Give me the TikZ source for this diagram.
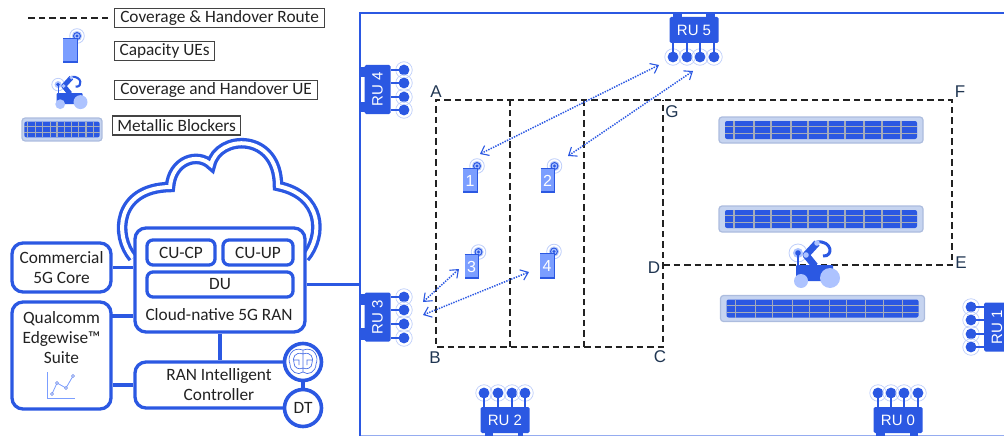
\documentclass[tikz,border=0pt]{standalone}
\usepackage{fontspec}
\setmainfont{Carlito}
\newfontfamily\rufont{Liberation Sans}
\usepackage{xcolor}
\usepackage{tikz}
\usetikzlibrary{positioning,arrows.meta}
\definecolor{ranblue}{RGB}{43,88,226}
\definecolor{uelight}{RGB}{123,158,255}
\definecolor{wheel}{RGB}{173,195,255}
\definecolor{ringc}{RGB}{190,206,250}
\definecolor{plate}{RGB}{198,212,240}
\definecolor{plateb}{RGB}{172,188,222}
\definecolor{ink}{RGB}{34,34,34}
\definecolor{mark}{RGB}{32,54,82}
\definecolor{gridc}{RGB}{165,172,186}

\begin{document}
\begin{tikzpicture}[x=1pt, y=-1pt, every node/.style={font=\fontsize{17.3}{20}\selectfont, text=ink},
  ranb/.style={draw=ranblue, line width=3.3pt, rounded corners=11pt, fill=white, align=center, inner sep=0pt},
  cub/.style={ranb, rounded corners=6pt},
  legb/.style={draw=ink!85, line width=1.2pt, anchor=west, minimum height=19, inner sep=0pt},
  txt/.style={align=center, inner sep=0pt},
  rund/.style={draw=ranblue, line width=3.6pt, circle, fill=white, minimum size=37, inner sep=0pt},
  rub/.style={fill=ranblue, rounded corners=1.5pt, minimum width=49, minimum height=26, inner sep=0pt, text=white, font=\rufont\fontsize{15}{15}\selectfont},
  ant/.style={circle, draw=ringc, line width=.7pt, minimum size=16.5, inner sep=0pt, path picture={\fill[ranblue] (path picture bounding box.center) circle (5.4);}},
  stem/.style={draw=ranblue, line width=1.3pt},
  link/.style={draw=ranblue, line width=3.3pt},
  wall/.style={draw=ranblue, line width=2.7pt},
  route/.style={draw=ink, line width=1.2pt, dash pattern=on 6.5pt off 4pt},
  radio/.style={draw=ranblue, line width=1.5pt, dash pattern=on 1.4pt off 1.2pt, {Straight Barb[length=7pt,width=11pt,line width=1.1pt]}-{Straight Barb[length=7pt,width=11pt,line width=1.1pt]}},
  mk/.style={inner sep=0pt, text=mark, font=\rufont\fontsize{17}{17}\selectfont},
  uenum/.style={inner sep=0pt, text=white, font=\rufont\fontsize{16}{16}\selectfont},
  pics/phone/.style={code={
    \draw[ringc, line width=.8pt] (7,-14.5) circle (7.3);
    \fill[ringc] (7,-14.5) circle (5.2);
    \fill[ranblue] (7,-14.5) circle (4);
    \fill[wheel] (7,-14.5) circle (2.8);
    \fill[ranblue] (7,-14.5) circle (1.7);
    \fill[uelight] (-7,-12.5) rectangle (7,12.5);
    \draw[ranblue, line width=.7pt] (-7,-12.5) -- (7,-12.5) -- (7,12.5);
    \fill[ranblue] (-7,10.5) rectangle (7,12.5);
  }},
  pics/blocker/.style={code={
    \draw[draw=plateb, fill=plate, line width=1.2pt, rounded corners=3pt] (-102,-13) rectangle (102,13);
    \fill[ranblue, rounded corners=2pt] (-96,-9) rectangle (96,9);
    \draw[gridc, line width=1.2pt] (-96,-3.3) -- (96,-3.3) (-96,3.6) -- (96,3.6);
    \foreach \g in {-87,-67,-50,-30,-13,7,24,43,61,80} \draw[gridc, line width=1.2pt] (\g,-9) -- (\g,9);
  }},
  pics/robot/.style={code={
    \begin{scope}[scale=#1]
    \fill[ranblue, rounded corners=1pt] (-19,0) rectangle (18,16);
    \fill[wheel] (-14,16) circle (7);
    \fill[wheel] (15,13) circle (10);
    \draw[ringc, line width=.8pt] (-17,-12) circle (9);
    \fill[wheel] (-17,-12) circle (5);
    \draw[ranblue, line width=#1*1.4pt] (-17,-12) -- (-17,2);
    \fill[ranblue] (-17,-12) circle (2.8);
    \draw[ranblue, line width=#1*7pt, line join=round] (0,1) -- (-9,-10) -- (2,-22);
    \draw[ranblue, line width=#1*3pt] (2,-23) .. controls (17,-25) and (19,-8) .. (8,-9);
    \fill[wheel] (-9,-10) circle (2.8);
    \fill[wheel] (2,-22) circle (2.8);
    \end{scope}
  }}]
\useasboundingbox (0,0) rectangle (1004,436);

\coordinate (rtl) at (25,18);
\coordinate (rtr) at (108,18);
\draw[route] (rtr) -- (rtl);
\node[legb, minimum width=210] (legroute) at (114,18) {Coverage \& Handover Route};
\node[legb, minimum width=100] (legcap) at (114,51) {Capacity UEs};
\node[legb, minimum width=203] (legcov) at (114,90) {Coverage and Handover UE};
\node[legb, minimum width=128] (legblk) at (112,125.5) {Metallic Blockers};
\pic at (70,50.5) {phone};
\pic at (70,93) {robot=.7};
\pic[xscale=.392, yscale=.88] at (62,129.5) {blocker};

\coordinate (clouda) at (133,258);
\coordinate (cloudb) at (305,258);
\draw[ranblue, line width=3.3pt, double=white, double distance=4pt] (clouda)
  .. controls (114,236) and (116,188) .. (170,187)
  .. controls (172,160) and (198,152) .. (211,165)
  .. controls (218,134) and (278,132) .. (278,186)
  .. controls (322,195) and (324,235) .. (cloudb);

\node[ranb, minimum width=99, minimum height=49] (core) at (61.5,267.5) {Commercial\\5G Core};
\node[ranb, minimum width=99, minimum height=107] (edge) at (61.5,355.5) {};
\node[txt] (edget) at (61.5,338) {Qualcomm\\Edgewise™\\Suite};
\node[ranb, minimum width=170, minimum height=104] (ran) at (220,280) {};
\node[cub, minimum width=68, minimum height=25] (cucp) at (181,252.5) {CU-CP};
\node[cub, minimum width=70, minimum height=25] (cuup) at (258,252.5) {CU-UP};
\node[cub, minimum width=146, minimum height=25] (du) at (220,284.5) {DU};
\node[txt] (rant) at (219,315) {Cloud-native 5G RAN};
\node[ranb, minimum width=168, minimum height=46] (ric) at (219,385) {RAN Intelligent\\Controller};
\coordinate (edgea) at (111,316);
\coordinate (wallp) at (360,285);
\draw[link] (core.east) -- (core -| ran.west);
\draw[link] (edgea) -- (edgea -| ran.west);
\draw[link] (ric.west) -- (ric.west -| edge.east);
\draw[link] (ran.south) -- (ran.south |- ric.north);
\draw[wall] (du -| ran.east) -- (du -| wallp);
\node[rund] (brain) at (303,362) {};
\node[rund] (dt) at (303,408) {DT};
\draw[link] (brain) -- (dt);
\draw[ranblue!85, line width=.7pt] (303,350) .. controls (291,346) and (287,358) .. (290,364) .. controls (290,372) and (298,376) .. (303,372)
  .. controls (308,376) and (316,372) .. (316,364) .. controls (319,358) and (315,346) .. (303,350) -- (303,372)
  (303,354) .. controls (295,351) and (292,358) .. (294,363) .. controls (294,368) and (299,370) .. (303,368)
  .. controls (307,370) and (312,368) .. (312,363) .. controls (314,358) and (311,351) .. (303,354)
  (294,360) -- (299,360) -- (299,365) (312,360) -- (307,360) -- (307,365);

\coordinate (axa) at (47,372);
\coordinate (axb) at (47,398);
\coordinate (axc) at (75,398);
\coordinate (cha) at (52,394);
\coordinate (chb) at (57,383);
\coordinate (chc) at (66,388);
\coordinate (chd) at (73,376);
\draw[uelight, line width=.8pt] (axa) -- (axb) -- (axc);
\draw[uelight, line width=.8pt] (cha) -- (chb) -- (chc) -- (chd);
\foreach \c in {cha,chb,chc,chd} \draw[ranblue!80, line width=.7pt, fill=white] (\c) circle (1.5);

\coordinate (cnr) at (360,13);
\coordinate (cnb) at (360,436);
\coordinate (cne) at (1004,13);
\coordinate (cnf) at (1004,435.5);
\draw[ranblue!50, line width=1pt] (cnb |- cnf) -- (cnf);
\draw[wall] (cnb) -- (cnr) -- (cne);

\coordinate (ptA) at (436,100);
\coordinate (ptB) at (436,347);
\coordinate (ptC) at (663,347);
\coordinate (ptD) at (663,265);
\coordinate (ptE) at (952,265);
\coordinate (ptF) at (952,100);
\coordinate (ptP) at (510,347);
\coordinate (ptQ) at (584,347);
\draw[route] (ptD) -- (ptE) -- (ptF) -- (ptA) -- (ptB) -- (ptC) -- (ptC |- ptA);
\draw[route] (ptP) -- (ptP |- ptA);
\draw[route] (ptQ) -- (ptQ |- ptA);
\node[mk] (labA) at (436,92) {A};
\node[mk] (labB) at (435,358) {B};
\node[mk] (labC) at (660,357) {C};
\node[mk, fill=white, inner sep=.5pt] (labD) at (654,268) {D};
\node[mk] (labE) at (961,263) {E};
\node[mk] (labF) at (960,92) {F};
\node[mk] (labG) at (672,112) {G};

\pic at (821,130) {blocker};
\pic at (821,219) {blocker};
\pic at (822.5,308.5) {blocker};
\pic at (815,265) {robot=1};

\foreach \n/\px/\py in {1/470/180.5, 2/547.5/180.5, 3/471.5/266.5, 4/547/266} {
  \pic at (\px,\py) {phone};
  \node[uenum] (ue\n) at (\px,\py) {\n};
}

\foreach \xa/\ya/\xb/\yb in {360/67/366/77, 360/102/366/112, 360/294/366/305, 360/328/366/340, 485/431/493/436, 518/431/523/436, 876/431/885/436, 910/431/918/436, 673/13/682/19, 706/13/715/19}
  \fill[ranblue] (\xa,\ya) rectangle (\xb,\yb);
\foreach \xa/\ya/\xb/\yb in {361/78/363/102, 361/305/363/328}
  \fill[white] (\xa,\ya) rectangle (\xb,\yb);

\node[rub, rotate=90] (ru4) at (377.5,89.5) {RU 4};
\foreach \i in {70,83,97,110} {
  \node[ant] (ru4a\i) at (404,\i) {};
  \draw[stem] (ru4a\i.center) -- (ru4a\i -| ru4.south);
}
\node[rub, rotate=90] (ru3) at (377.5,317) {RU 3};
\foreach \i in {297,310,324,338} {
  \node[ant] (ru3a\i) at (404,\i) {};
  \draw[stem] (ru3a\i.center) -- (ru3a\i -| ru3.south);
}
\node[rub, rotate=90] (ru1) at (997,327) {RU 1};
\foreach \i in {307,320,334,347} {
  \node[ant] (ru1a\i) at (971,\i) {};
  \draw[stem] (ru1a\i.center) -- (ru1a\i -| ru1.north);
}
\node[rub] (ru2) at (505,420) {RU 2};
\foreach \i in {484,498,512,525} {
  \node[ant] (ru2a\i) at (\i,393) {};
  \draw[stem] (ru2a\i.center) -- (ru2a\i |- ru2.north);
}
\node[rub] (ru0) at (898,420) {RU 0};
\foreach \i in {878,891,904,918} {
  \node[ant] (ru0a\i) at (\i,393) {};
  \draw[stem] (ru0a\i.center) -- (ru0a\i |- ru0.north);
}
\node[rub] (ru5) at (694,30) {RU 5};
\foreach \i in {673,687,700,714} {
  \node[ant] (ru5a\i) at (\i,57) {};
  \draw[stem] (ru5a\i.center) -- (ru5a\i |- ru5.south);
}

\coordinate (ueap) at (480,154);
\coordinate (uebp) at (568,156);
\coordinate (uecp) at (459,269);
\coordinate (uedp) at (529,272);
\coordinate (rufa) at (659,65);
\coordinate (rufb) at (693,71);
\coordinate (ruca) at (423,302);
\coordinate (rucb) at (423,315);
\draw[radio] (ueap) -- (rufa);
\draw[radio] (uebp) -- (rufb);
\draw[radio] (ruca) -- (uecp);
\draw[radio] (rucb) -- (uedp);
\end{tikzpicture}
\end{document}
